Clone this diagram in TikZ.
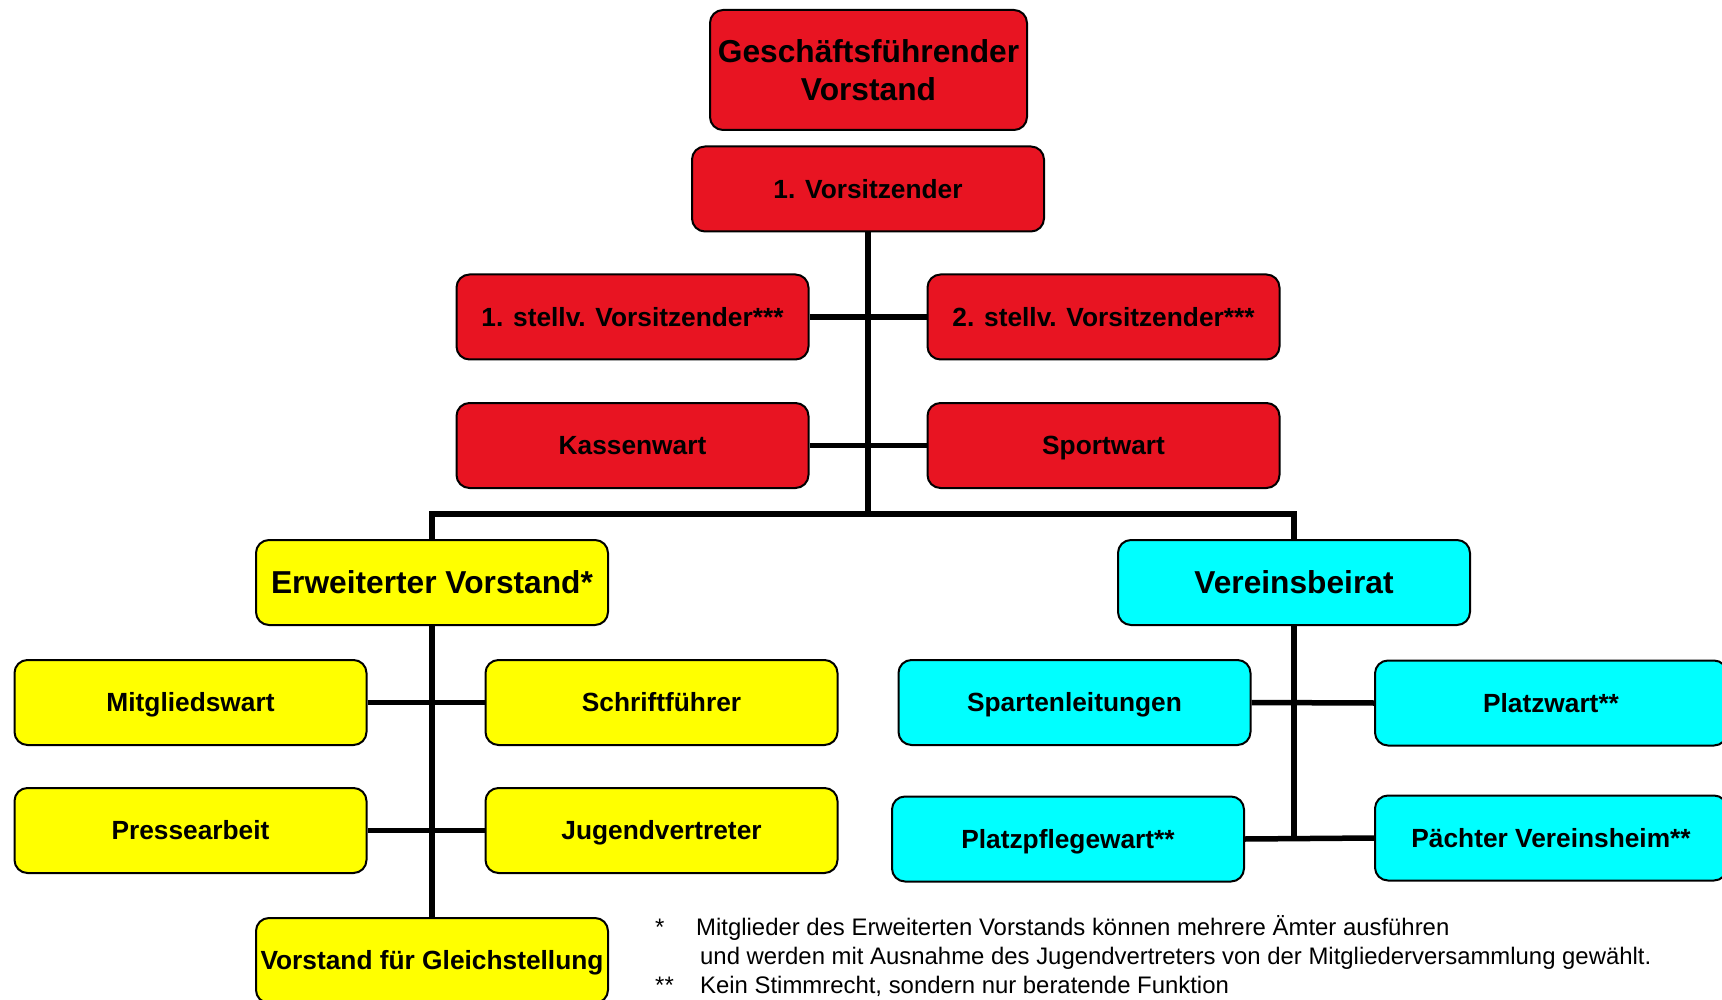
\documentclass[tikz,border=0pt]{standalone}
\usepackage{fontspec}
\setmainfont{Liberation Sans}
\definecolor{orgred}{RGB}{232,20,34}
\definecolor{orgyellow}{RGB}{255,255,0}
\definecolor{orgcyan}{RGB}{0,255,255}
\tikzset{
  box/.style={draw=black, line width=2pt, rounded corners=13pt, align=center,
    minimum width=352pt, minimum height=85pt, inner sep=0pt,
    text height=18.8pt, text depth=0pt,
    font=\fontsize{26.3}{30}\selectfont\bfseries},
  bigbox/.style={box, text height=22.7pt, text depth=0pt,
    font=\fontsize{31.7}{37}\selectfont\bfseries},
  titlebox/.style={box, fill=orgred, text height=, text depth=,
    minimum width=317pt, minimum height=120pt,
    font=\fontsize{31.7}{38.5}\selectfont\bfseries},
  redbox/.style={box, fill=orgred},
  yelbox/.style={box, fill=orgyellow},
  cyanbox/.style={box, fill=orgcyan},
  conn/.style={draw=black, line width=5.5pt},
  note/.style={anchor=base west, inner sep=0pt, font=\fontsize{23.9}{28}\selectfont}
}
\begin{document}
\begin{tikzpicture}[x=1pt,y=-1pt]
\useasboundingbox (0,0) rectangle (1722,1000);
\clip (0,0) rectangle (1722,1000);
% nodes
\node[titlebox] (gv) at (868.5,70) {Geschäftsführender\\Vorstand};
\node[redbox] (v1) at (868,189) {1. Vorsitzender};
\node[redbox] (s1) at (632.5,317) {1. stellv. Vorsitzender***};
\node[redbox] (s2) at (1103.5,317) {2. stellv. Vorsitzender***};
\node[redbox] (kw) at (632.5,445.5) {Kassenwart};
\node[redbox] (sw) at (1103.5,445.5) {Sportwart};
\node[yelbox, bigbox] (ev) at (432,582.5) {Erweiterter Vorstand*};
\node[cyanbox, bigbox] (vb) at (1294,582.5) {Vereinsbeirat};
\node[yelbox] (mw) at (190.5,702.5) {Mitgliedswart};
\node[yelbox] (sf) at (661.5,702.5) {Schriftführer};
\node[yelbox] (pa) at (190.5,830.5) {Pressearbeit};
\node[yelbox] (jv) at (661.5,830.5) {Jugendvertreter};
\node[yelbox] (vg) at (432,960.5) {Vorstand für Gleichstellung};
\node[cyanbox] (sl) at (1074.5,702.5) {Spartenleitungen};
\node[cyanbox] (pw) at (1551,703) {Platzwart**};
\node[cyanbox] (ppw) at (1068,839) {Platzpflegewart**};
\node[cyanbox] (pv) at (1551,838) {Pächter Vereinsheim**};
% connectors
\coordinate (bus) at (868,514);
\coordinate (rend) at (1296,839);
\draw[conn] (v1.south) -- (bus);
\draw[conn] (ev.north) |- (bus) -| (vb.north);
\draw[conn] (s1.east) -- (s2.west);
\draw[conn] (kw.east) -- (sw.west);
\draw[conn] (ev.south) -- (vg.north);
\draw[conn] (mw.east) -- (sf.west);
\draw[conn] (pa.east) -- (jv.west);
\draw[conn] (vb.south) -- (vb.south |- rend);
\draw[conn] (sl.east) -- (pw.west);
\draw[conn] (ppw.east) -- (pv.west);
% footnotes
\node[note] (n1s) at (655,935) {*};
\node[note] (n1) at (696,935) {Mitglieder des Erweiterten Vorstands können mehrere Ämter ausführen};
\node[note] (n2) at (700,964) {und werden mit Ausnahme des Jugendvertreters von der Mitgliederversammlung gewählt.};
\node[note] (n3s) at (655,993) {**};
\node[note] (n3) at (700,993) {Kein Stimmrecht, sondern nur beratende Funktion};
\end{tikzpicture}
\end{document}
